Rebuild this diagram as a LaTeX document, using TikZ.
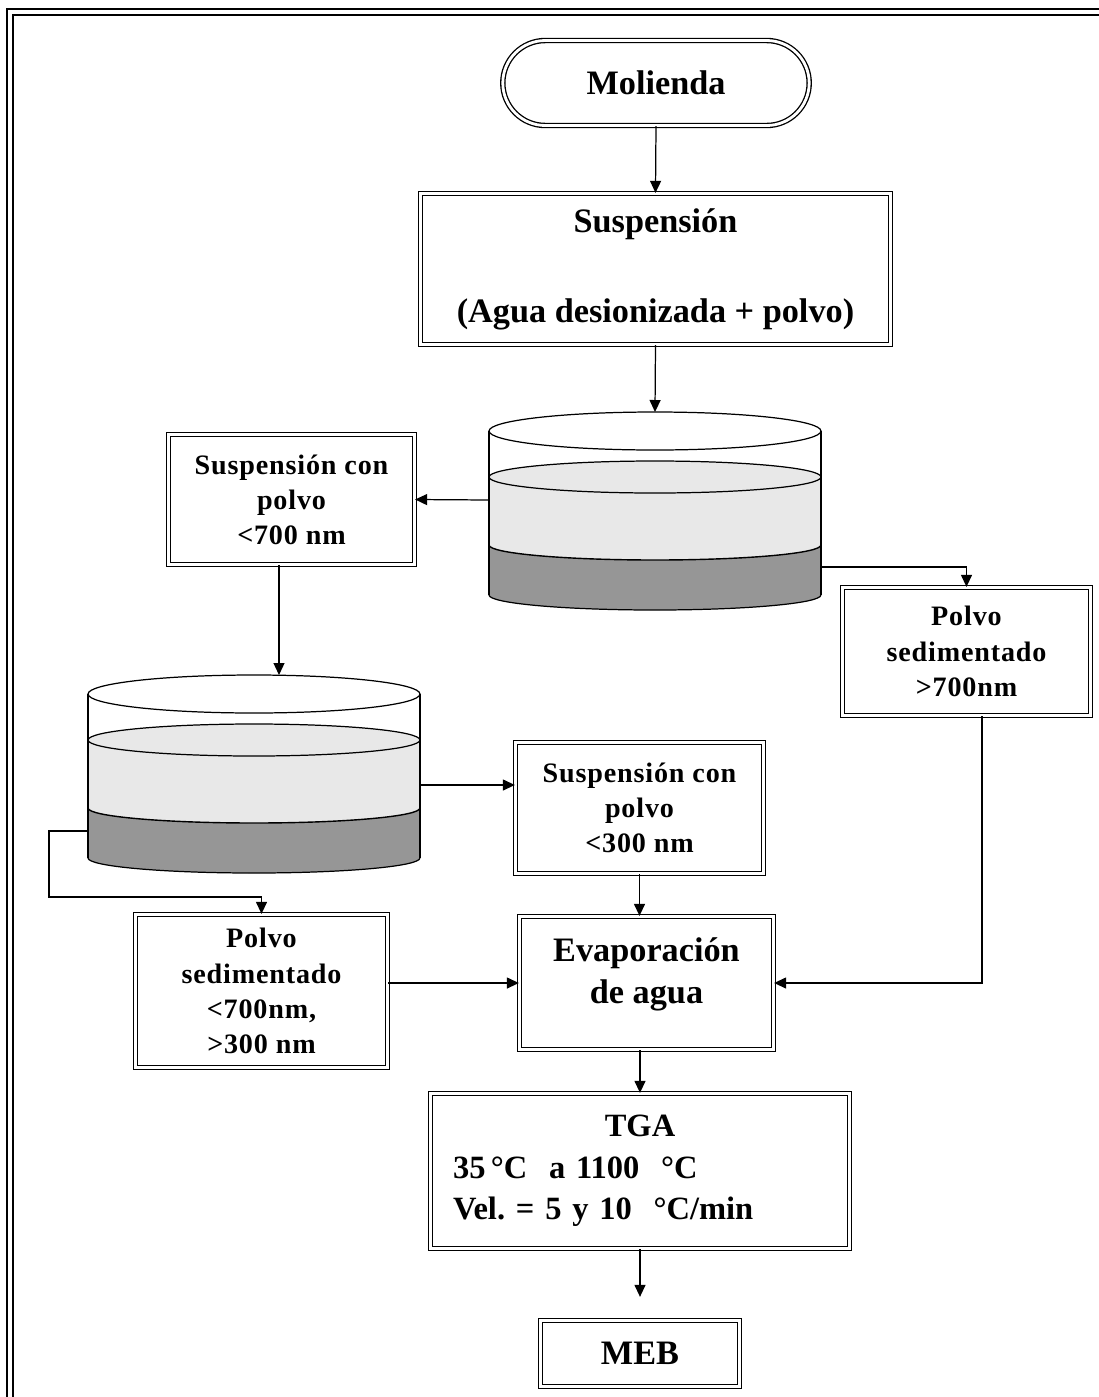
\documentclass[tikz,border=0pt]{standalone}
\usepackage{fontspec}
\setmainfont{Liberation Serif}
\newfontfamily\espaciada[LetterSpace=3]{Liberation Serif}
\frenchspacing
\usetikzlibrary{shapes.misc}
\usetikzlibrary{arrows.meta}
\definecolor{liquido}{HTML}{E8E8E8}
\definecolor{sedimento}{HTML}{969696}
\tikzstyle{caja}=[draw, line width=0.75pt, double, double distance=1.6pt, align=center, inner sep=3pt, font=\bfseries\fontsize{19.5}{23.5}\selectfont]
\tikzstyle{cajita}=[caja, font=\espaciada\bfseries\fontsize{16}{20}\selectfont]
\tikzstyle{flecha}=[line width=0.7pt, -{Triangle[length=0.24cm, width=0.22cm]}]
% decantador: centro x, y de la boca
\newcommand{\decantador}[2]{%
  \fill[sedimento] ({#1-166},{#2+114}) rectangle ({#1+166},{#2+164});
  \fill[sedimento] (#1,{#2+164}) ellipse [x radius=3.32cm, y radius=0.3cm];
  \fill[liquido] ({#1-166},{#2+46}) rectangle ({#1+166},{#2+114});
  \fill[liquido] (#1,{#2+114}) ellipse [x radius=3.32cm, y radius=0.3cm];
  \draw[line width=0.7pt, fill=liquido] (#1,{#2+46}) ellipse [x radius=3.32cm, y radius=0.32cm];
  \draw[line width=0.7pt] (#1,#2) ellipse [x radius=3.32cm, y radius=0.38cm];
  \draw[line width=0.8pt] ({#1-166},{#2+114}) arc [start angle=180, end angle=360, x radius=3.32cm, y radius=0.3cm];
  \draw[line width=0.7pt] ({#1-166},{#2+164}) arc [start angle=180, end angle=360, x radius=3.32cm, y radius=0.3cm];
  \draw[line width=0.7pt] ({#1-166},#2) -- ({#1-166},{#2+164});
  \draw[line width=0.7pt] ({#1+166},#2) -- ({#1+166},{#2+164});
}

\begin{document}
\begin{tikzpicture}[x=0.02cm, y=-0.02cm]
    \path[use as bounding box, clip] (0,0) rectangle (1099,1397);
    \draw[line width=1pt, double, double distance=2pt] (10,12) rectangle (1130,1430);

    \node[caja, rounded rectangle, minimum width=6.34cm, minimum height=1.7cm] (molienda) at (656,83) {Molienda};
    \node[caja, minimum width=9.4cm, minimum height=3.02cm] (susp) at (655.5,269) {Suspensión\\[0.97cm](Agua desionizada + polvo)};

    % decantadores
    \decantador{655}{431}
    \decantador{254}{694}
    \coordinate (dec1-boca) at (655,412);
    \coordinate (dec1-izq) at (489,500);
    \coordinate (dec1-der) at (821,567);
    \coordinate (dec2-boca) at (279,675);
    \coordinate (dec2-der) at (420,785);
    \coordinate (dec2-izq) at (88,831);

    \node[cajita, minimum width=4.92cm, minimum height=2.6cm] (s700) at (291.5,499.5) {Suspensión con\\polvo\\<700 nm};
    \node[cajita, minimum width=4.96cm, minimum height=2.56cm] (p700) at (966.5,651.5) {Polvo\\sedimentado\\>700nm};
    \node[cajita, minimum width=4.96cm, minimum height=2.62cm] (s300) at (639.5,808) {Suspensión con\\polvo\\<300 nm};
    \node[cajita, minimum width=5.04cm, minimum height=3.06cm] (p300) at (261.5,991) {Polvo\\sedimentado\\<700nm,\\>300 nm};
    \node[caja, minimum width=5.08cm, minimum height=2.66cm, text depth=0.5cm] (evap) at (646.5,983) {Evaporación\\de agua};
    \node[caja, minimum width=8.38cm, minimum height=3.1cm, text width=7.48cm, align=left,
        font=\bfseries\fontsize{18.5}{23.5}\selectfont] (tga) at (640,1171)
        {\hfill TGA\hfill\null\\35\,°C~~a 1100~~°C\\Vel. = 5 y 10~~°C/min};
    \node[caja, minimum width=3.98cm, minimum height=1.32cm] (meb) at (640,1353.5) {MEB};

    \draw[flecha] (molienda.south) -- (susp.north);
    \draw[flecha] (susp.south) -- (dec1-boca);
    \draw[flecha] (dec1-izq) -- (s700.east);
    \draw[flecha] (dec1-der) -| (p700.north);
    \draw[flecha] (s700.south -| dec2-boca) -- (dec2-boca);
    \draw[flecha] (dec2-der) -- (dec2-der -| s300.west);
    \draw[flecha] (dec2-izq) -| (49,897) -| (p300.north);
    \draw[flecha] (s300.south) -- (s300.south |- evap.north);
    \draw[flecha] (p300.east |- evap.west) -- (evap.west);
    \draw[flecha] ([xshift=0.31cm]p700.south) |- (evap.east);
    \draw[flecha] (evap.south -| tga.north) -- (tga.north);
    \draw[flecha, shorten >=0.46cm] (tga.south) -- (meb.north);
\end{tikzpicture}
\end{document}
